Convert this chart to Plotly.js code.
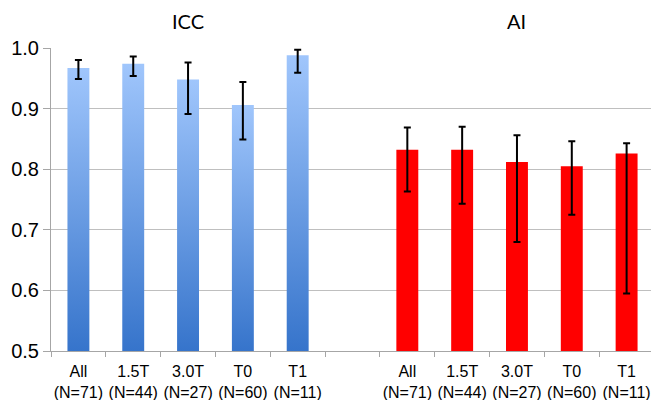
<!DOCTYPE html>
<html>
<head>
<meta charset="utf-8">
<script src="https://cdn.plot.ly/plotly-3.0.1.min.js"></script>
<style>html,body{margin:0;padding:0;background:#fff;}#chart{width:651px;height:400px;}</style>
</head>
<body>
<div id="chart"></div>
<script>
// Data
const groupNames = ["ICC", "AI"];
const categories = ["All<br>(N=71)", "1.5T<br>(N=44)", "3.0T<br>(N=27)", "T0<br>(N=60)", "T1<br>(N=11)"];
const iccValues = [0.967, 0.974, 0.948, 0.906, 0.988];
const iccUpper  = [0.980, 0.986, 0.976, 0.944, 0.997];
const iccLower  = [0.949, 0.954, 0.891, 0.849, 0.959];
const aiValues  = [0.832, 0.832, 0.812, 0.805, 0.826];
const aiUpper   = [0.869, 0.870, 0.856, 0.846, 0.843];
const aiLower   = [0.763, 0.743, 0.680, 0.725, 0.595];
const yTicks = [0.5, 0.6, 0.7, 0.8, 0.9, 1.0];

// Build unique category names for the two groups, with an empty slot between them
const iccCats = categories.slice();
const aiCats = categories.map(c => c + "\u200b");
const gapCat = " ";
const allCats = iccCats.concat([gapCat], aiCats);

const errBar = (vals, up, lo) => ({
  type: 'data', symmetric: false,
  array: up.map((u, i) => u - vals[i]),
  arrayminus: vals.map((v, i) => v - lo[i]),
  color: '#000', thickness: 2, width: 3.5
});

const traces = [
  {type: 'bar', x: iccCats, y: iccValues, name: groupNames[0],
   marker: {color: '#6a9fe8', line: {width: 0}},
   error_y: errBar(iccValues, iccUpper, iccLower), width: 0.4},
  {type: 'bar', x: aiCats, y: aiValues, name: groupNames[1],
   marker: {color: '#ff0000', line: {width: 0}},
   error_y: errBar(aiValues, aiUpper, aiLower), width: 0.4}
];

const FONT = "'Liberation Sans', Arial, sans-serif";
const TFONT = "Lato, 'Open Sans', sans-serif";
const layout = {
  width: 651, height: 400,
  margin: {l: 51, r: 0, t: 48, b: 49},
  paper_bgcolor: '#fff', plot_bgcolor: '#fff',
  showlegend: false,
  font: {family: FONT, color: '#000', size: 16},
  xaxis: {
    type: 'category', categoryorder: 'array', categoryarray: allCats,
    range: [-0.5, 10.445], fixedrange: true,
    showline: true, linecolor: '#a6a6a6', linewidth: 1,
    ticks: 'outside', tickson: 'boundaries', ticklen: 5, tickcolor: '#a6a6a6',
    showgrid: false, tickangle: 0, automargin: false, ticklabelstandoff: 6,
    tickfont: {family: FONT, size: 16, color: '#000'}
  },
  yaxis: {
    range: [0.5, 1.0], tickvals: yTicks, ticktext: yTicks.map(v => v.toFixed(1)),
    showline: true, linecolor: '#a6a6a6', linewidth: 1,
    ticks: 'outside', ticklen: 7, tickcolor: '#a6a6a6',
    showgrid: true, gridcolor: '#bfbfbf', gridwidth: 1,
    zeroline: false, automargin: false,
    tickfont: {family: FONT, size: 20, color: '#000'}
  },
  annotations: [
    {text: groupNames[0], xref: 'x', yref: 'paper', x: 2, y: 1, yanchor: 'middle', yshift: 27, showarrow: false,
     font: {family: TFONT, size: 20, color: '#000'}},
    {text: groupNames[1], xref: 'x', yref: 'paper', x: 8, y: 1, yanchor: 'middle', yshift: 27, showarrow: false,
     font: {family: TFONT, size: 20, color: '#000'}}
  ]
};

Plotly.newPlot('chart', traces, layout, {displayModeBar: false, staticPlot: true}).then(gd => {
  // apply vertical gradient (top of bar -> plot bottom) to ICC bars
  const svg = gd.querySelector('svg.main-svg');
  const ns = 'http://www.w3.org/2000/svg';
  let defs = svg.querySelector('defs');
  if (!defs) { defs = document.createElementNS(ns, 'defs'); svg.insertBefore(defs, svg.firstChild); }
  const plotH = gd._fullLayout._size.h;
  const traceGroups = gd.querySelectorAll('.barlayer .trace');
  if (traceGroups[0]) {
    traceGroups[0].querySelectorAll('.point path').forEach((p, i) => {
      const bb = p.getBBox();
      const lg = document.createElementNS(ns, 'linearGradient');
      lg.setAttribute('id', 'iccGrad' + i);
      lg.setAttribute('gradientUnits', 'userSpaceOnUse');
      lg.setAttribute('x1', '0'); lg.setAttribute('x2', '0');
      lg.setAttribute('y1', String(bb.y)); lg.setAttribute('y2', String(plotH));
      [['0', '#a0c6fc'], ['1', '#3674cb']].forEach(([o, c]) => {
        const s = document.createElementNS(ns, 'stop');
        s.setAttribute('offset', o); s.setAttribute('stop-color', c);
        lg.appendChild(s);
      });
      defs.appendChild(lg);
      p.style.fill = 'url(#iccGrad' + i + ')';
    });
  }
});
</script>
</body>
</html>
